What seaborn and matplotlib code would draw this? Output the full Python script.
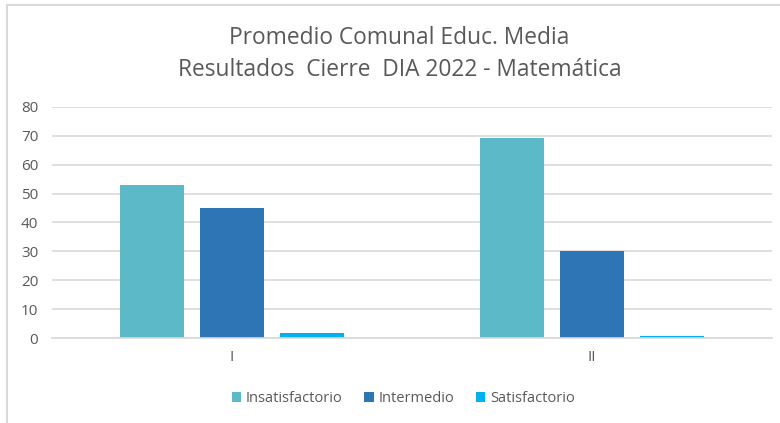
import matplotlib
matplotlib.use('Agg')
import matplotlib.pyplot as plt
import pandas as pd
import seaborn as sns
from matplotlib.lines import Line2D

niveles = ['I', 'II']
categorias = ['Insatisfactorio', 'Intermedio', 'Satisfactorio']
insatisfactorio = [53, 69]
intermedio = [45, 30]
satisfactorio = [2, 1]
colores = ['#5BB9C8', '#2E75B6', '#00B0F0']

rows = []
for cat, vals in zip(categorias, [insatisfactorio, intermedio, satisfactorio]):
    for niv, v in zip(niveles, vals):
        rows.append({'nivel': niv, 'categoria': cat, 'valor': v})
df = pd.DataFrame(rows)

sns.set_theme(style='white')
plt.rcParams['font.family'] = ['Open Sans', 'DejaVu Sans']
txt = '#595959'

fig = plt.figure(figsize=(7.8, 4.23), dpi=100)
ax = fig.add_axes([0.0667, 0.2, 0.923, 0.548])

sns.barplot(data=df, x='nivel', y='valor', hue='categoria', order=niveles,
            hue_order=categorias, palette=colores, width=0.667, gap=0.21,
            saturation=1, linewidth=0, ax=ax, legend=True)

ax.set_ylim(0, 80)
ax.set_yticks(range(0, 81, 10))
ax.yaxis.grid(True, color='#D9D9D9', linewidth=1.2)
ax.set_axisbelow(True)
for s in ['top', 'right', 'left']:
    ax.spines[s].set_visible(False)
ax.spines['bottom'].set_color('#D9D9D9')
ax.spines['bottom'].set_linewidth(1.2)
ax.tick_params(axis='both', length=0, labelsize=11, colors=txt)
ax.tick_params(axis='y', pad=10)
ax.tick_params(axis='x', pad=8)
ax.set_xlabel('')
ax.set_ylabel('')

handles, labels = ax.get_legend_handles_labels()
ax.legend_.remove()
fig.legend(handles, labels, loc='center', bbox_to_anchor=(0.517, 0.057), ncol=3,
           frameon=False, fontsize=10.5, labelcolor=txt, handlelength=0.65,
           handleheight=0.65, handletextpad=0.3, columnspacing=1.5)

fig.text(0.512, 0.91, 'Promedio Comunal Educ. Media', ha='center', va='center',
         fontsize=16.4, color=txt)
fig.text(0.512, 0.835, 'Resultados  Cierre  DIA 2022 - Matemática', ha='center',
         va='center', fontsize=16.4, color=txt)

# chart frame
fig.add_artist(Line2D([0.009, 0.009], [0, 0.988], color='#D9D9D9', linewidth=1.5))
fig.add_artist(Line2D([0.009, 1.0], [0.988, 0.988], color='#D9D9D9', linewidth=1.5))

fig.savefig('out.png', dpi=100)
